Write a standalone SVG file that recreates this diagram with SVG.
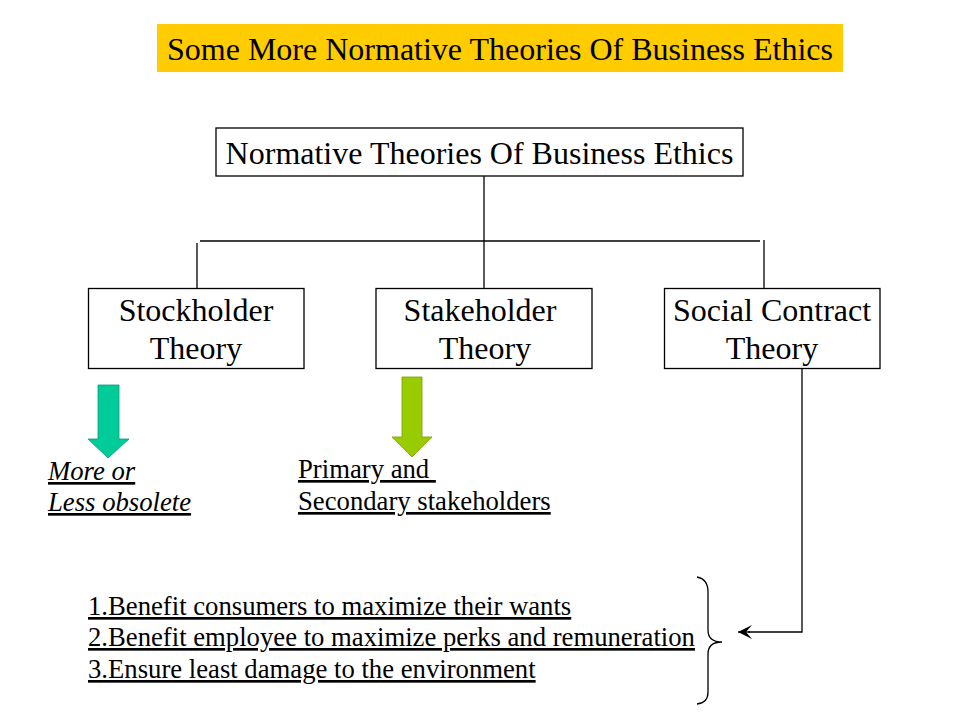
<svg xmlns="http://www.w3.org/2000/svg" width="960" height="720" viewBox="0 0 960 720">
<defs>
<style>
.t{font-family:"Liberation Serif","Times New Roman",serif;fill:#000}
.big{font-size:32px}
.sm{font-size:26.7px}
.box{fill:#fff;stroke:#000;stroke-width:1.3}
.ln{fill:none;stroke:#000;stroke-width:1.3}
.u{text-decoration:underline}
</style>
<marker id="ah" viewBox="0 0 16 14" refX="15" refY="7" markerWidth="16" markerHeight="14" markerUnits="userSpaceOnUse" orient="auto">
<path d="M15,7 L1,0 L7,7 L1,14 Z" fill="#000"/>
</marker>
</defs>
<rect width="960" height="720" fill="#fff"/>
<g id="title">
<rect x="157" y="24" width="686" height="48" fill="#FFCC00"/>
<text class="t big" x="500" y="60" text-anchor="middle">Some More Normative Theories Of Business Ethics</text>
</g>
<g id="connectors">
<line class="ln" x1="484" y1="176" x2="484" y2="289"/>
<line class="ln" x1="200" y1="241" x2="760" y2="241"/>
<line class="ln" x1="197" y1="243" x2="197" y2="289"/>
<line class="ln" x1="764" y1="240" x2="764" y2="289"/>
<polyline class="ln" points="802,368 802,632 748,632"/>
<line class="ln" x1="750" y1="632" x2="738" y2="632" marker-end="url(#ah)"/>
<path class="ln" d="M697,577 Q708,579 708,592 L708,630 Q708,642 722,642 Q708,642 708,654 L708,692 Q708,703 697,704"/>
</g>
<g id="root">
<rect class="box" x="216" y="128" width="527" height="48"/>
<text class="t big" x="479.5" y="164" text-anchor="middle">Normative Theories Of Business Ethics</text>
</g>
<g id="stockholder">
<rect class="box" x="88.5" y="288.5" width="215.5" height="80"/>
<text class="t big" x="196" y="321" text-anchor="middle">Stockholder</text>
<text class="t big" x="196" y="359" text-anchor="middle">Theory</text>
</g>
<g id="stakeholder">
<rect class="box" x="376" y="288.5" width="216" height="80"/>
<text class="t big" x="480" y="321" text-anchor="middle">Stakeholder</text>
<text class="t big" x="485" y="359" text-anchor="middle">Theory</text>
</g>
<g id="social">
<rect class="box" x="664.5" y="288.5" width="215.5" height="80"/>
<text class="t big" x="772" y="321" text-anchor="middle">Social Contract</text>
<text class="t big" x="772" y="359" text-anchor="middle">Theory</text>
</g>
<g id="arrow-stock">
<polygon points="98,385 119,385 119,439 129,439 108,458 88,439 98,439" fill="#00CC99" stroke="#0a9a75" stroke-width="0.8"/>
</g>
<g id="arrow-stake">
<polygon points="402,377 422,377 422,437 432,437 412,457 392,437 402,437" fill="#99CC00" stroke="#77a000" stroke-width="0.8"/>
</g>
<g id="obsolete">
<text class="t sm u" x="48" y="480" font-style="italic">More or</text>
<text class="t sm u" x="48" y="511" font-style="italic">Less obsolete</text>
</g>
<g id="stakeholders-note">
<text class="t sm u" x="298" y="478" xml:space="preserve">Primary and </text>
<text class="t sm u" x="298" y="510">Secondary stakeholders</text>
</g>
<g id="list">
<text class="t sm u" x="88" y="615">1.Benefit consumers to maximize their wants</text>
<text class="t sm u" x="88" y="646">2.Benefit employee to maximize perks and remuneration</text>
<text class="t sm u" x="88" y="678">3.Ensure least damage to the environment</text>
</g>
</svg>
